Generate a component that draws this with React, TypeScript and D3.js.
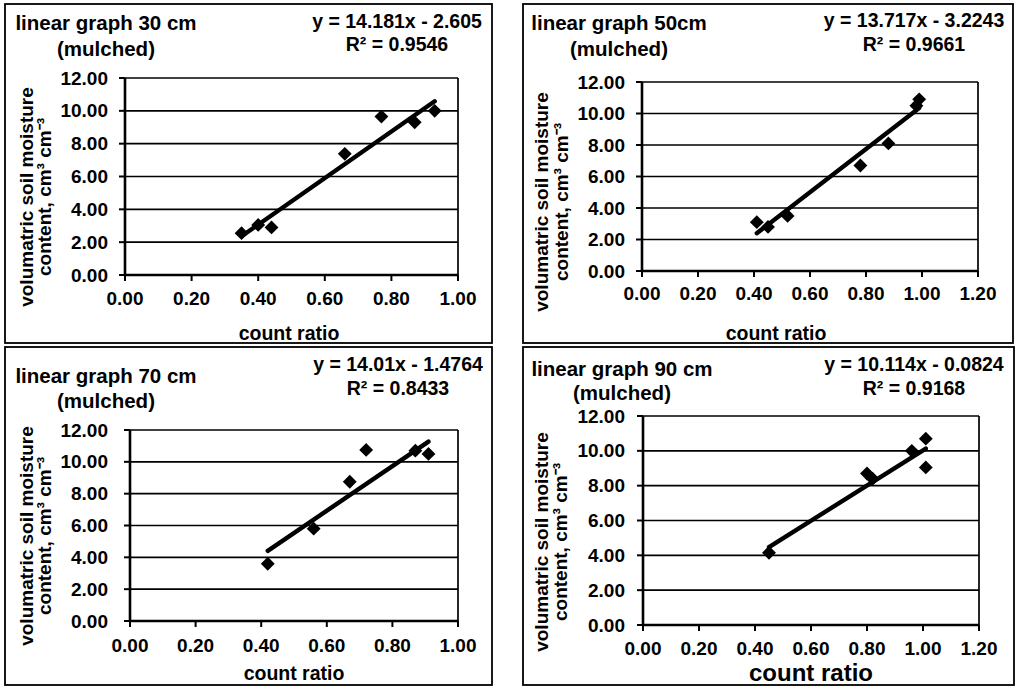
import React from "react";
import * as d3 from "d3";

// ---------- data ----------
const yTickValues = [0, 2, 4, 6, 8, 10, 12];
const xTicksTo1 = [0, 0.2, 0.4, 0.6, 0.8, 1.0];
const xTicksTo12 = [0, 0.2, 0.4, 0.6, 0.8, 1.0, 1.2];

const titles = ["linear graph 30 cm", "linear graph 50cm", "linear graph 70 cm", "linear graph 90 cm"];
const subtitle = "(mulched)";
const xAxisTitle = "count ratio";
const yAxisTitle1 = "volumatric soil moisture";
const yAxisTitle2 = "content, cm³ cm⁻³";

const x30 = [0.35, 0.40, 0.44, 0.66, 0.77, 0.87, 0.93];
const y30 = [2.55, 3.05, 2.9, 7.38, 9.65, 9.3, 10.0];
const x50 = [0.41, 0.45, 0.52, 0.78, 0.88, 0.98, 0.99];
const y50 = [3.1, 2.8, 3.5, 6.7, 8.1, 10.5, 10.9];
const x70 = [0.42, 0.56, 0.67, 0.72, 0.87, 0.91];
const y70 = [3.6, 5.8, 8.75, 10.75, 10.7, 10.5];
const x90 = [0.45, 0.80, 0.82, 0.96, 1.01, 1.01];
const y90 = [4.15, 8.7, 8.4, 10.0, 10.7, 9.05];

const slopes = [14.181, 13.717, 14.01, 10.114];
const intercepts = [-2.605, -3.2243, -1.4764, -0.0824];
const equations = ["y = 14.181x - 2.605", "y = 13.717x - 3.2243", "y = 14.01x - 1.4764", "y = 10.114x - 0.0824"];
const rSquared = ["R² = 0.9546", "R² = 0.9661", "R² = 0.8433", "R² = 0.9168"];

const xsAll = [x30, x50, x70, x90];
const ysAll = [y30, y50, y70, y90];
const xTickSets = [xTicksTo1, xTicksTo12, xTicksTo1, xTicksTo12];

// ---------- layout (positions only) ----------
const layouts = [
  { fx: 5, fy: 4, fw: 487, fh: 339, L: 125, R: 458, T: 78, B: 275, titleCx: 106, titleY: 22, subY: 48,
    eqCx: 397, eqY: 21, r2Y: 44, yLabR: 108, xLabY: 298, xTitleCx: 289, xTitleY: 333, xTitleSize: 19.5,
    yl1: 26, yl2: 44, ylCy: 197 },
  { fx: 523, fy: 4, fw: 490, fh: 339, L: 642, R: 978, T: 82, B: 271, titleCx: 619, titleY: 22, subY: 48,
    eqCx: 914, eqY: 20, r2Y: 44, yLabR: 625, xLabY: 293, xTitleCx: 776, xTitleY: 333, xTitleSize: 19.5,
    yl1: 541, yl2: 561, ylCy: 202 },
  { fx: 5, fy: 347, fw: 487, fh: 338, L: 130, R: 458, T: 430, B: 621, titleCx: 106, titleY: 375, subY: 400,
    eqCx: 398, eqY: 364, r2Y: 388, yLabR: 108, xLabY: 645, xTitleCx: 294, xTitleY: 673, xTitleSize: 19.5,
    yl1: 26, yl2: 44, ylCy: 536 },
  { fx: 523, fy: 347, fw: 491, fh: 338, L: 643, R: 979, T: 416, B: 625, titleCx: 622, titleY: 368, subY: 392,
    eqCx: 914, eqY: 364, r2Y: 388, yLabR: 625, xLabY: 648, xTitleCx: 811, xTitleY: 672, xTitleSize: 24,
    yl1: 541, yl2: 560, ylCy: 542 },
];

const FONT = "'Liberation Sans', Arial, Helvetica, sans-serif";
const diamond = d3.symbol(d3.symbolSquare, 96)() as string;

function Panel({ i }: { i: number }) {
  const lay = layouts[i];
  const xs = xsAll[i];
  const ys = ysAll[i];
  const xTicks = xTickSets[i];
  const xMax = xTicks[xTicks.length - 1];
  const x = d3.scaleLinear().domain([0, xMax]).range([lay.L, lay.R]);
  const y = d3.scaleLinear().domain([0, 12]).range([lay.B, lay.T]);
  const xmin = d3.min(xs) as number;
  const xmaxd = d3.max(xs) as number;
  const trend = [xmin, xmaxd].map((v) => [v, slopes[i] * v + intercepts[i]] as [number, number]);
  const line = d3.line<[number, number]>().x((d) => x(d[0])).y((d) => y(d[1]));

  return (
    <g fontFamily={FONT} fontWeight="bold" fill="#000">
      <rect x={lay.fx} y={lay.fy} width={lay.fw} height={lay.fh} fill="#fff" stroke="#000" strokeWidth={1.8} />
      {/* title */}
      <text x={lay.titleCx} y={lay.titleY} fontSize={20.5} textAnchor="middle" dominantBaseline="central">{titles[i]}</text>
      <text x={lay.titleCx} y={lay.subY} fontSize={20.5} textAnchor="middle" dominantBaseline="central">{subtitle}</text>
      {/* equation */}
      <text x={lay.eqCx} y={lay.eqY} fontSize={19.5} textAnchor="middle" dominantBaseline="central">{equations[i]}</text>
      <text x={lay.eqCx} y={lay.r2Y} fontSize={19.5} textAnchor="middle" dominantBaseline="central">{rSquared[i]}</text>
      {/* gridlines */}
      {yTickValues.filter((v) => v > 0).map((v) => (
        <line key={"g" + v} x1={lay.L} x2={lay.R} y1={y(v)} y2={y(v)} stroke="#000" strokeWidth={1.7} />
      ))}
      {/* right plot border */}
      <line x1={lay.R} x2={lay.R} y1={y(12)} y2={y(0)} stroke="#000" strokeWidth={1.7} />
      {/* y axis */}
      <line x1={lay.L} x2={lay.L} y1={y(12)} y2={y(0)} stroke="#000" strokeWidth={2.6} />
      {yTickValues.map((v) => (
        <g key={"yt" + v}>
          <line x1={lay.L - 6} x2={lay.L} y1={y(v)} y2={y(v)} stroke="#000" strokeWidth={2} />
          <text x={lay.yLabR} y={y(v)} fontSize={19} textAnchor="end" dominantBaseline="central">{v.toFixed(2)}</text>
        </g>
      ))}
      {/* x axis */}
      <line x1={lay.L} x2={lay.R} y1={y(0)} y2={y(0)} stroke="#000" strokeWidth={2.4} />
      {xTicks.map((v) => (
        <g key={"xt" + v}>
          <line x1={x(v)} x2={x(v)} y1={y(0)} y2={y(0) + 6} stroke="#000" strokeWidth={2} />
          <text x={x(v)} y={lay.xLabY} fontSize={19} textAnchor="middle" dominantBaseline="central">{v.toFixed(2)}</text>
        </g>
      ))}
      {/* axis titles */}
      <text x={lay.xTitleCx} y={lay.xTitleY} fontSize={lay.xTitleSize} textAnchor="middle" dominantBaseline="central">{xAxisTitle}</text>
      <text transform={`translate(${lay.yl1},${lay.ylCy}) rotate(-90)`} fontSize={19} textAnchor="middle" dominantBaseline="central">{yAxisTitle1}</text>
      <text transform={`translate(${lay.yl2},${lay.ylCy}) rotate(-90)`} fontSize={19} textAnchor="middle" dominantBaseline="central">{yAxisTitle2}</text>
      {/* markers */}
      {xs.map((xv, k) => (
        <path key={"m" + k} d={diamond} transform={`translate(${x(xv)},${y(ys[k])}) rotate(45)`} fill="#000" />
      ))}
      {/* trend line */}
      <path d={line(trend) as string} fill="none" stroke="#000" strokeWidth={4.4} strokeLinecap="round" />
    </g>
  );
}

export default function App() {
  return (
    <svg width={1020} height={688} style={{ position: "absolute", left: 0, top: 0, background: "#fff" }}>
      <rect x={0} y={0} width={1020} height={688} fill="#fff" />
      {[0, 1, 2, 3].map((i) => (
        <Panel key={i} i={i} />
      ))}
    </svg>
  );
}
